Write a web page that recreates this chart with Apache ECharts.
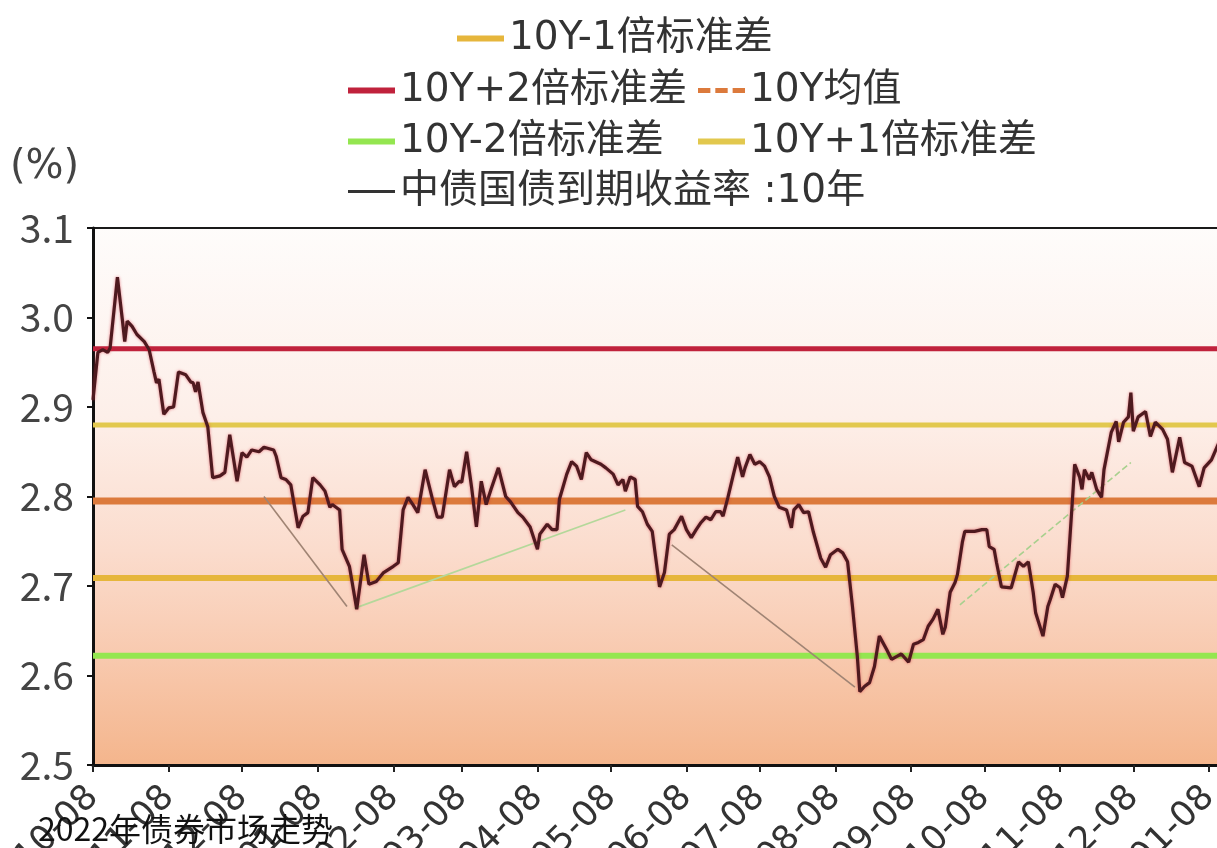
<!DOCTYPE html>
<html><head><meta charset="utf-8">
<script src="https://cdn.jsdelivr.net/npm/echarts@6/dist/echarts.min.js"></script>
<style>html,body{margin:0;padding:0;background:#fff}#c{width:1217px;height:848px}</style>
</head><body><div id="c"></div>
<script>
const dates = ['2021-10-08','2021-10-10','2021-10-12','2021-10-14','2021-10-15','2021-10-18','2021-10-20','2021-10-21','2021-10-22','2021-10-24','2021-10-26','2021-10-29','2021-10-31','2021-11-02','2021-11-03','2021-11-04','2021-11-06','2021-11-08','2021-11-10','2021-11-12','2021-11-15','2021-11-17','2021-11-18','2021-11-19','2021-11-20','2021-11-22','2021-11-24','2021-11-26','2021-11-29','2021-12-01','2021-12-03','2021-12-06','2021-12-08','2021-12-10','2021-12-12','2021-12-15','2021-12-17','2021-12-21','2021-12-22','2021-12-24','2021-12-26','2021-12-28','2021-12-31','2022-01-02','2022-01-04','2022-01-06','2022-01-09','2022-01-11','2022-01-13','2022-01-14','2022-01-17','2022-01-18','2022-01-21','2022-01-24','2022-01-27','2022-01-29','2022-02-01','2022-02-04','2022-02-08','2022-02-10','2022-02-12','2022-02-14','2022-02-16','2022-02-18','2022-02-21','2022-02-24','2022-02-26','2022-02-28','2022-03-03','2022-03-05','2022-03-07','2022-03-08','2022-03-10','2022-03-12','2022-03-14','2022-03-16','2022-03-18','2022-03-20','2022-03-23','2022-03-26','2022-03-28','2022-03-31','2022-04-02','2022-04-05','2022-04-08','2022-04-09','2022-04-12','2022-04-14','2022-04-16','2022-04-17','2022-04-20','2022-04-22','2022-04-24','2022-04-26','2022-04-28','2022-04-30','2022-05-04','2022-05-06','2022-05-09','2022-05-11','2022-05-13','2022-05-14','2022-05-16','2022-05-18','2022-05-19','2022-05-21','2022-05-23','2022-05-25','2022-05-28','2022-05-30','2022-06-01','2022-06-03','2022-06-06','2022-06-08','2022-06-10','2022-06-12','2022-06-14','2022-06-16','2022-06-18','2022-06-20','2022-06-22','2022-06-23','2022-06-25','2022-06-27','2022-06-29','2022-07-01','2022-07-02','2022-07-04','2022-07-06','2022-07-08','2022-07-10','2022-07-12','2022-07-14','2022-07-16','2022-07-19','2022-07-21','2022-07-22','2022-07-24','2022-07-26','2022-07-28','2022-07-30','2022-08-02','2022-08-04','2022-08-06','2022-08-09','2022-08-11','2022-08-13','2022-08-15','2022-08-17','2022-08-18','2022-08-20','2022-08-22','2022-08-24','2022-08-26','2022-08-29','2022-08-31','2022-09-02','2022-09-04','2022-09-07','2022-09-09','2022-09-11','2022-09-13','2022-09-15','2022-09-17','2022-09-19','2022-09-21','2022-09-22','2022-09-24','2022-09-26','2022-09-27','2022-09-29','2022-09-30','2022-10-04','2022-10-07','2022-10-09','2022-10-10','2022-10-12','2022-10-13','2022-10-15','2022-10-19','2022-10-22','2022-10-24','2022-10-26','2022-10-28','2022-10-29','2022-11-01','2022-11-03','2022-11-04','2022-11-06','2022-11-08','2022-11-09','2022-11-11','2022-11-13','2022-11-14','2022-11-16','2022-11-17','2022-11-18','2022-11-20','2022-11-21','2022-11-23','2022-11-25','2022-11-26','2022-11-29','2022-12-01','2022-12-02','2022-12-04','2022-12-06','2022-12-07','2022-12-08','2022-12-10','2022-12-13','2022-12-15','2022-12-17','2022-12-20','2022-12-22','2022-12-24','2022-12-27','2022-12-29','2023-01-01','2023-01-04','2023-01-06','2023-01-09','2023-01-12'];
const yields = [2.908,2.961,2.964,2.961,2.966,3.045,2.998,2.973,2.996,2.990,2.981,2.973,2.964,2.939,2.927,2.931,2.892,2.899,2.900,2.939,2.936,2.928,2.927,2.917,2.928,2.894,2.878,2.821,2.823,2.827,2.869,2.817,2.849,2.844,2.852,2.850,2.855,2.852,2.845,2.821,2.819,2.813,2.765,2.778,2.782,2.821,2.813,2.806,2.788,2.791,2.785,2.741,2.722,2.674,2.735,2.702,2.705,2.715,2.722,2.726,2.785,2.799,2.791,2.782,2.830,2.797,2.777,2.777,2.830,2.811,2.817,2.816,2.850,2.811,2.766,2.817,2.791,2.808,2.832,2.800,2.794,2.782,2.777,2.766,2.741,2.758,2.769,2.763,2.763,2.797,2.825,2.839,2.834,2.819,2.849,2.841,2.836,2.832,2.825,2.813,2.819,2.806,2.822,2.819,2.789,2.783,2.769,2.761,2.699,2.715,2.758,2.763,2.778,2.763,2.754,2.763,2.771,2.777,2.774,2.783,2.783,2.778,2.799,2.822,2.844,2.822,2.832,2.847,2.836,2.839,2.834,2.822,2.800,2.788,2.785,2.765,2.785,2.791,2.782,2.783,2.760,2.731,2.721,2.735,2.741,2.737,2.727,2.677,2.621,2.582,2.588,2.592,2.610,2.644,2.629,2.618,2.621,2.624,2.615,2.635,2.637,2.640,2.655,2.663,2.674,2.646,2.654,2.693,2.704,2.713,2.749,2.761,2.761,2.763,2.763,2.744,2.741,2.726,2.699,2.698,2.727,2.722,2.727,2.693,2.670,2.644,2.677,2.685,2.702,2.698,2.687,2.711,2.793,2.836,2.822,2.808,2.830,2.819,2.827,2.808,2.799,2.830,2.872,2.884,2.861,2.883,2.889,2.916,2.873,2.889,2.895,2.867,2.883,2.875,2.864,2.827,2.866,2.838,2.834,2.811,2.832,2.841,2.860];
const tickLabels = ['2021-10-08','2021-11-08','2021-12-08','2022-01-08','2022-02-08','2022-03-08','2022-04-08','2022-05-08','2022-06-08','2022-07-08','2022-08-08','2022-09-08','2022-10-08','2022-11-08','2022-12-08','2023-01-08'];
const mainName = '中债国债到期收益率 :10年';
const bandNames = ['10Y-2倍标准差','10Y-1倍标准差','10Y均值','10Y+1倍标准差','10Y+2倍标准差'];
const bandValues = [2.622, 2.709, 2.795, 2.880, 2.965];
const trendStartDates = ['2021-12-17','2022-01-23','2022-06-02','2022-09-28'];
const trendStartValues = [2.800, 2.675, 2.746, 2.679];
const trendEndDates = ['2022-01-20','2022-05-14','2022-08-16','2022-12-07'];
const trendEndValues = [2.677, 2.785, 2.587, 2.838];

const bandColors = ['#94e650','#e6b63c','#dc7a3c','#e2c84e','#c0223c'];
const bandWidths = [6, 6, 7, 5, 5];
const trendColors = ['#a08474','#b4d89a','#a08474','#a8d08e'];
const trendTypes = ['solid','solid','solid','dashed'];
const FONT = 'DejaVu Sans, Noto Sans CJK SC';

function ts(s){ const p = s.split('-').map(Number); return new Date(p[0], p[1]-1, p[2]).getTime(); }
const DAY = 86400000;
const xMin = ts('2021-10-08');
const xMax = ts('2023-01-12') + DAY / 2;
const tickTs = tickLabels.map(ts);
function fmt(v){ let best = 0; for (let i = 1; i < tickTs.length; i++) if (Math.abs(tickTs[i]-v) < Math.abs(tickTs[best]-v)) best = i; return tickLabels[best]; }

const series = [];
bandNames.forEach((n,i)=>{
  series.push({type:'line', name:n, data:[[xMin,bandValues[i]],[xMax,bandValues[i]]], symbol:'none',
    color:bandColors[i], itemStyle:{color:bandColors[i]}, lineStyle:{color:bandColors[i], width:bandWidths[i]}, z:2, silent:true});
});
trendStartDates.forEach((d,i)=>{
  series.push({type:'line', data:[[ts(d),trendStartValues[i]],[ts(trendEndDates[i]),trendEndValues[i]]], symbol:'none',
    lineStyle:{color:trendColors[i], width:1.6, type:trendTypes[i]}, z:3, silent:true});
});
series.push({type:'line', name:mainName, data:dates.map((d,i)=>[ts(d),yields[i]]), symbol:'none',
  color:'#4e1a1f', itemStyle:{color:'#4e1a1f'},
  lineStyle:{color:'#4e1a1f', width:3.2, shadowColor:'rgba(210,40,60,0.6)', shadowBlur:3}, z:5, silent:true});

const dashIcon = 'path://M0,0h10v4h-10zM14,0h10v4h-10zM28,0h10v4h-10z';
function lg(name, color, left, top, icon, h){
  return {data:[{name:name, icon:icon, itemStyle:{color:color}}], left:left, top:top, itemWidth:47, itemHeight:h,
    padding:0, selectedMode:false, textStyle:{fontSize:39, color:'#333', fontFamily:FONT}};
}
const legends = [
  lg(bandNames[1], bandColors[1], 457, 19, 'rect', 6),
  lg(bandNames[4], bandColors[4], 348, 71, 'rect', 6),
  lg(bandNames[2], bandColors[2], 698, 71, dashIcon, 5),
  lg(bandNames[0], bandColors[0], 348, 122, 'rect', 6),
  lg(bandNames[3], bandColors[3], 698, 122, 'rect', 6),
  lg(mainName, '#333', 348, 172, 'rect', 3)
];

const chart = echarts.init(document.getElementById('c'));
chart.setOption({
  animation:false,
  textStyle:{fontFamily:FONT},
  title:[
    {text:'2022年债券市场走势', left:38, top:813, padding:0, textStyle:{fontSize:32, fontWeight:'normal', color:'#111', fontFamily:'Noto Sans CJK SC'}},
    {text:'(%)', left:10, top:148, padding:0, textStyle:{fontSize:40, fontWeight:'normal', color:'#444', fontFamily:FONT}}
  ],
  legend:legends,
  grid:{left:93, top:228, right:-3, bottom:83, containLabel:false, outerBoundsMode:'none',
    show:true, borderColor:'#1a1a1a', borderWidth:2,
    backgroundColor:{type:'linear', x:0, y:0, x2:0, y2:1, colorStops:[
      {offset:0, color:'#fefcfb'},{offset:0.35, color:'#fdefe9'},{offset:0.6, color:'#fbdccd'},{offset:0.8, color:'#f8c9ae'},{offset:1, color:'#f4b58c'}]}},
  xAxis:{type:'value', min:xMin, max:xMax,
    axisLine:{lineStyle:{color:'#111', width:3}},
    axisTick:{show:true, customValues:tickTs, length:7, lineStyle:{color:'#222', width:2}},
    axisLabel:{customValues:tickTs, rotate:45, fontSize:35, color:'#333', margin:27, formatter:fmt, hideOverlap:false, showMinLabel:true, showMaxLabel:true},
    splitLine:{show:false}},
  yAxis:{type:'value', min:2.5, max:3.1, interval:0.1,
    axisLine:{show:true, lineStyle:{color:'#111', width:3}},
    axisTick:{show:true, length:6, lineStyle:{color:'#111', width:2}},
    axisLabel:{fontSize:39, color:'#444', margin:19, formatter:v=>v.toFixed(1), fontFamily:'Noto Sans CJK SC'},
    splitLine:{show:false}},
  series:series
});
</script></body></html>
